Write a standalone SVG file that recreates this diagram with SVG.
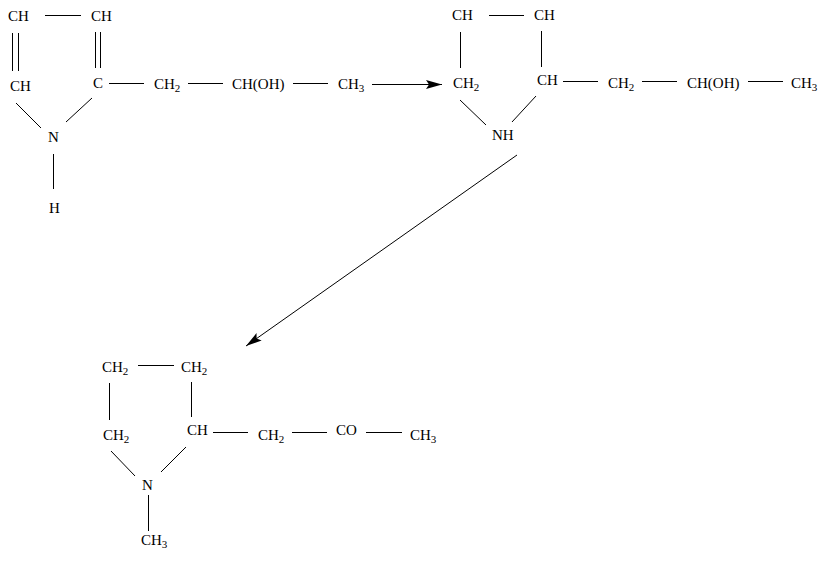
<svg xmlns="http://www.w3.org/2000/svg" width="837" height="561" viewBox="0 0 837 561">
<style>
text{font-family:"Liberation Serif","Times New Roman",serif;font-size:15px;fill:#000}
.s{font-size:11px}
line{stroke:#000;stroke-width:1}
</style>
<defs>
<marker id="ah" markerUnits="userSpaceOnUse" markerWidth="17" markerHeight="10" refX="16" refY="4.5" orient="auto">
<path d="M0,0 L16,4.5 L0,9 L3,4.5 z" fill="#000"/>
</marker>
</defs>
<rect width="837" height="561" fill="#fff"/>
<g id="connectors">
<line x1="45" y1="15.5" x2="81" y2="15.5"/>
<line x1="12.5" y1="33" x2="12.5" y2="71"/>
<line x1="18.5" y1="33" x2="18.5" y2="71"/>
<line x1="95.5" y1="32" x2="95.5" y2="68"/>
<line x1="100.5" y1="32" x2="100.5" y2="68"/>
<line x1="109" y1="83.5" x2="144" y2="83.5"/>
<line x1="188" y1="83.5" x2="223" y2="83.5"/>
<line x1="293" y1="83.5" x2="328" y2="83.5"/>
<line x1="16" y1="103" x2="41" y2="128"/>
<line x1="92" y1="98" x2="66" y2="122"/>
<line x1="53.5" y1="154" x2="53.5" y2="189"/>
<line x1="372" y1="84.5" x2="442" y2="84.5" marker-end="url(#ah)"/>
<line x1="489" y1="15.5" x2="524" y2="15.5"/>
<line x1="460.5" y1="32" x2="460.5" y2="68"/>
<line x1="541.5" y1="31" x2="541.5" y2="67"/>
<line x1="563" y1="81.5" x2="598" y2="81.5"/>
<line x1="642" y1="81.5" x2="677" y2="81.5"/>
<line x1="748" y1="81.5" x2="783" y2="81.5"/>
<line x1="460" y1="100" x2="486" y2="125"/>
<line x1="536" y1="96" x2="512" y2="122"/>
<line x1="517" y1="155" x2="246" y2="346" marker-end="url(#ah)"/>
<line x1="138" y1="365.5" x2="174" y2="365.5"/>
<line x1="109.5" y1="383" x2="109.5" y2="420"/>
<line x1="191.5" y1="382" x2="191.5" y2="417"/>
<line x1="213" y1="432.5" x2="248" y2="432.5"/>
<line x1="292" y1="432.5" x2="327" y2="432.5"/>
<line x1="366" y1="432.5" x2="402" y2="432.5"/>
<line x1="111" y1="451" x2="135" y2="476"/>
<line x1="186" y1="447" x2="161" y2="472"/>
<line x1="148.5" y1="495" x2="148.5" y2="531"/>
</g>
<g id="m1-ch-a"><text x="8" y="21">CH</text></g>
<g id="m1-ch-b"><text x="91" y="21">CH</text></g>
<g id="m1-ch-c"><text x="10" y="91">CH</text></g>
<g id="m1-c"><text x="93" y="88">C</text></g>
<g id="m1-ch2"><text x="154" y="89">CH<tspan class="s" dy="3">2</tspan></text></g>
<g id="m1-choh"><text x="232" y="89">CH(OH)</text></g>
<g id="m1-ch3"><text x="338" y="89">CH<tspan class="s" dy="3">3</tspan></text></g>
<g id="m1-n"><text x="48" y="142">N</text></g>
<g id="m1-h"><text x="49" y="213">H</text></g>
<g id="m2-ch-a"><text x="452" y="20">CH</text></g>
<g id="m2-ch-b"><text x="534" y="20">CH</text></g>
<g id="m2-ch2-ring"><text x="453" y="88">CH<tspan class="s" dy="3">2</tspan></text></g>
<g id="m2-ch"><text x="537" y="85">CH</text></g>
<g id="m2-ch2"><text x="608" y="88">CH<tspan class="s" dy="3">2</tspan></text></g>
<g id="m2-choh"><text x="687" y="88">CH(OH)</text></g>
<g id="m2-ch3"><text x="791" y="88">CH<tspan class="s" dy="3">3</tspan></text></g>
<g id="m2-nh"><text x="492" y="140">NH</text></g>
<g id="m3-ch2-a"><text x="102" y="372">CH<tspan class="s" dy="3">2</tspan></text></g>
<g id="m3-ch2-b"><text x="181" y="372">CH<tspan class="s" dy="3">2</tspan></text></g>
<g id="m3-ch2-c"><text x="103" y="440">CH<tspan class="s" dy="3">2</tspan></text></g>
<g id="m3-ch"><text x="187" y="435">CH</text></g>
<g id="m3-ch2"><text x="258" y="440">CH<tspan class="s" dy="3">2</tspan></text></g>
<g id="m3-co"><text x="336" y="435">CO</text></g>
<g id="m3-ch3"><text x="410" y="440">CH<tspan class="s" dy="3">3</tspan></text></g>
<g id="m3-n"><text x="142" y="490">N</text></g>
<g id="m3-ch3-n"><text x="141" y="545">CH<tspan class="s" dy="3">3</tspan></text></g>
</svg>
